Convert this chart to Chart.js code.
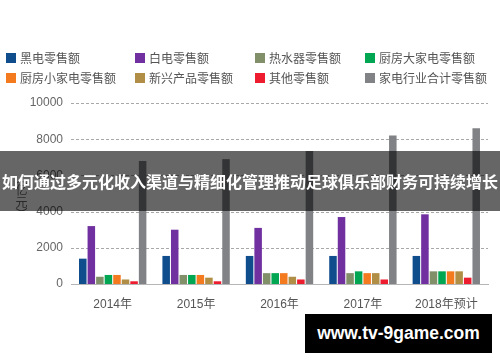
<!DOCTYPE html>
<html><head><meta charset="utf-8">
<script src="https://cdn.jsdelivr.net/npm/chart.js@4/dist/chart.umd.min.js"></script>
<style>
html,body{margin:0;padding:0;background:#fff;}
#wrap{position:relative;width:500px;height:362px;overflow:hidden;}
#c{position:absolute;left:0;top:0;}
#ytitle{position:absolute;left:14px;top:172px;writing-mode:vertical-rl;font:12px "Noto Sans CJK SC",sans-serif;color:#666;line-height:14px;}
#banner{position:absolute;left:0;top:151px;width:500px;height:60px;background:rgba(0,0,0,0.6);color:#fff;font:bold 16px "Noto Sans CJK SC",sans-serif;text-align:center;line-height:60px;white-space:nowrap;}
#wm{position:absolute;left:305px;top:314px;width:187px;height:39px;background:#000;color:#fff;font:bold 17.5px "Liberation Sans",Arial,sans-serif;text-align:center;line-height:39px;white-space:nowrap;}
</style></head>
<body>
<div id="wrap">
<canvas id="c" width="500" height="362"></canvas>
<div id="ytitle">（亿元）</div>
<div id="banner">如何通过多元化收入渠道与精细化管理推动足球俱乐部财务可持续增长</div>
<div id="wm">www.tv-9game.com</div>
</div>
<script>
const categories = ['2014年','2015年','2016年','2017年','2018年预计'];
const seriesNames = ['黑电零售额','白电零售额','热水器零售额','厨房大家电零售额','厨房小家电零售额','新兴产品零售额','其他零售额','家电行业合计零售额'];
const heiDian = [1400,1550,1550,1550,1550];
const baiDian = [3200,3000,3100,3700,3850];
const reShuiQi = [400,500,600,600,700];
const chuFangDa = [500,500,600,700,700];
const chuFangXiao = [500,500,600,600,700];
const xinXing = [250,350,400,600,700];
const qiTa = [150,150,250,250,350];
const heJi = [6800,6900,7350,8200,8600];
const yTicks = [0,2000,4000,6000,8000,10000];

const colors = ['#0F4D8C','#7030A0','#82906A','#00A651','#F47A20','#B08E45','#ED1C2E','#818285'];
const values = [heiDian,baiDian,reShuiQi,chuFangDa,chuFangXiao,xinXing,qiTa,heJi];

const FONT = '"Liberation Sans","Noto Sans CJK SC",sans-serif';

const dashedGrid = {
  id:'dashedGrid',
  beforeDatasetsDraw(chart){
    const {ctx, chartArea, scales} = chart;
    const y = scales.y;
    ctx.save();
    ctx.strokeStyle = '#a8a8a8';
    ctx.lineWidth = 1;
    ctx.setLineDash([3,2]);
    y.ticks.forEach(t=>{
      if (t.value === 0) return;
      const py = Math.round(y.getPixelForValue(t.value)) + 0.5;
      ctx.beginPath();
      ctx.moveTo(chartArea.left, py);
      ctx.lineTo(chartArea.right, py);
      ctx.stroke();
    });
    ctx.restore();
  }
};

const legendPlugin = {
  id:'gridLegend',
  afterDraw(chart){
    const ctx = chart.ctx;
    const xs = [6,135,255,365];
    const ys = [58,78];
    ctx.save();
    ctx.font = '12px "Noto Sans CJK SC",sans-serif';
    ctx.textBaseline = 'middle';
    chart.data.datasets.forEach((ds,i)=>{
      const x = xs[i%4], y = ys[Math.floor(i/4)];
      ctx.fillStyle = ds.backgroundColor;
      ctx.fillRect(x, y-5, 10, 10);
      ctx.fillStyle = '#555';
      ctx.fillText(ds.label, x+14, y+0.5);
    });
    ctx.restore();
  }
};

new Chart(document.getElementById('c'), {
  type:'bar',
  data:{
    labels: categories,
    datasets: seriesNames.map((n,i)=>({label:n,data:values[i],backgroundColor:colors[i],borderWidth:0}))
  },
  options:{
    responsive:false,
    animation:false,
    layout:{padding:{top:103,left:30,right:12,bottom:48}},
    datasets:{bar:{categoryPercentage:0.82,barPercentage:0.88}},
    plugins:{legend:{display:false},tooltip:{enabled:false}},
    scales:{
      x:{
        grid:{display:false},
        border:{display:true,color:'#b5b5b5',width:1},
        ticks:{color:'#555',font:{size:12,family:FONT},padding:5},
        afterFit(s){s.height=30;}
      },
      y:{
        min:0,max:10000,
        afterBuildTicks(s){s.ticks = yTicks.map(v=>({value:v}));},
        grid:{display:false,drawTicks:false},
        border:{display:false},
        ticks:{color:'#666',font:{size:12,family:FONT},padding:8,callback:(v)=>String(v)},
        afterFit(s){s.width=41;}
      }
    }
  },
  plugins:[dashedGrid, legendPlugin]
});
</script>
</body></html>
